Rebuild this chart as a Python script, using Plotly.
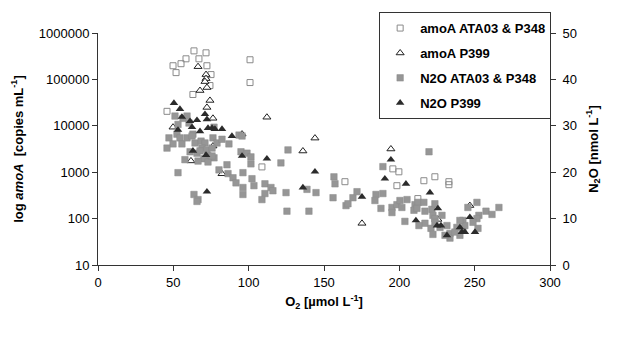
import plotly.graph_objects as go

# amoA ATA03 & P348 (open squares) - left log axis
o2_amoA_ata = [63.7, 71.7, 58.4, 67.0, 55.1, 49.8, 72.3, 51.8, 75.0, 100.9, 100.9, 74.3,
               63.0, 45.8, 108.8, 163.9, 195.7, 199.7, 198.4, 216.3, 223.6, 232.9, 232.9, 212.3]
amoA_ata = [412000, 374000, 278000, 278000, 218000, 197000, 197000, 140000, 127000, 265000,
            85500, 73800, 47300, 20500, 1300, 624, 1180, 1020, 512, 655, 798, 624, 538, 270]

# amoA P399 (open triangles) - left log axis
o2_amoA_p399 = [66.4, 71.7, 71.7, 71.0, 72.3, 67.7, 74.3, 72.3, 76.3, 112.1, 49.8, 76.3,
                61.7, 82.3, 95.6, 144.0, 136.0, 194.4, 175.2, 246.8, 225.6]
amoA_p399 = [188000, 127000, 104000, 89700, 66800, 57600, 35200, 24900, 14500, 15300, 9330,
             3660, 1750, 925, 6620, 5430, 2860, 3160, 79, 191, 96]

# N2O ATA03 & P348 (grey squares) - right axis
o2_n2o_ata = [51.1, 56.4, 59.1, 53.1, 60.4, 52.4, 47.1, 54.4, 49.8, 45.8, 55.7, 59.1, 63.0, 62.4,
              64.4, 68.4, 71.0, 76.3, 79.0, 82.3, 86.9, 93.6, 95.6, 77.0, 69.0, 72.3, 75.7, 65.7,
              73.0, 77.0, 70.3, 57.7, 66.4, 73.0, 53.1, 80.3, 85.6, 86.3, 89.6, 91.6, 61.1, 67.7,
              75.7, 94.9, 98.9, 101.5, 101.5, 96.2, 102.2, 103.5, 96.2, 96.2, 110.8, 110.8, 108.8,
              63.7, 66.4, 65.7, 114.8, 116.1, 126.1, 121.4, 124.8, 125.4, 140.0, 138.7, 144.7,
              156.6, 157.3, 156.0, 164.6, 165.9, 169.2, 171.9, 184.5, 183.8, 189.1, 187.8, 189.1,
              195.1, 195.1, 198.4, 200.4, 201.7, 203.7, 205.1, 219.7, 210.4, 212.4, 216.3, 209.7,
              217.0, 221.6, 223.6, 217.0, 213.0, 222.3, 228.3, 223.6, 221.0, 222.3, 227.0, 231.6,
              233.6, 233.6, 238.2, 242.2, 242.2, 240.2, 243.5, 251.5, 245.5, 252.8, 251.5, 252.2,
              257.5, 261.5, 266.1, 248.9, 223.6, 240.2, 211.7, 236.9, 230.3]
n2o_ata = [32.1, 31.6, 32.1, 30.3, 30.6, 28.2, 27.4, 27.4, 26.1, 25.2, 26.1, 27.4, 28.2, 27.8,
           26.3, 26.7, 26.3, 27.4, 26.3, 27.1, 26.1, 28.0, 27.8, 29.7, 25.2, 24.8, 25.2, 24.1,
           23.5, 23.1, 22.9, 22.7, 22.4, 22.2, 19.9, 20.5, 21.6, 19.7, 18.8, 17.7, 24.4, 24.6,
           23.5, 24.4, 24.1, 23.3, 21.8, 19.9, 18.6, 17.1, 16.7, 15.2, 17.5, 15.4, 14.1,
           15.2, 14.1, 13.7, 16.7, 16.0, 24.8, 22.0, 15.6, 11.6, 11.6, 16.3, 15.6,
           19.0, 17.5, 14.5, 12.8, 13.2, 14.5, 15.8, 15.2, 13.9, 15.4, 12.2, 21.2,
           12.4, 11.3, 13.0, 13.9, 12.4, 9.4, 14.1, 24.4, 13.0, 13.5, 13.5, 11.8,
           11.6, 12.0, 13.2, 9.0, 8.5, 10.7, 10.7, 10.0, 7.9, 6.6, 8.1, 8.5,
           6.8, 5.8, 8.1, 9.6, 7.9, 6.4, 8.5, 13.5, 12.4, 10.7, 10.0, 7.9,
           11.6, 10.9, 12.4, 9.2, 9.2, 9.6, 12.2, 7.1, 6.4]

# N2O P399 (dark triangles) - right axis
o2_n2o_p399 = [50.4, 54.4, 55.7, 61.1, 65.7, 62.4, 71.0, 72.3, 73.0, 75.7, 77.6, 82.3, 53.1, 88.9,
               67.7, 63.0, 71.7, 72.3, 95.6, 112.1, 144.0, 136.0, 175.2, 194.4, 190.4, 204.4,
               220.3, 225.6, 211.0, 225.0, 227.6, 231.6, 240.2, 241.5, 243.5, 246.8, 250.2]
n2o_p399 = [34.9, 33.6, 31.9, 31.0, 31.2, 29.7, 32.5, 31.4, 29.5, 29.5, 29.3, 29.3, 29.1, 27.8,
            28.8, 24.6, 23.7, 15.8, 23.5, 22.9, 20.1, 16.7, 14.7, 22.7, 18.6, 17.5,
            15.6, 12.2, 9.6, 8.5, 8.5, 6.4, 8.1, 7.1, 7.1, 10.3, 7.1]

left_tickvals = [10, 100, 1000, 10000, 100000, 1000000]
left_ticktext = ["10", "100", "1000", "10000", "100000", "1000000"]
right_tickvals = [0, 10, 20, 30, 40, 50]

FONT = "Liberation Sans, Arial, sans-serif"
AX = "#333333"

fig = go.Figure()
fig.add_trace(go.Scatter(x=o2_amoA_ata, y=amoA_ata, mode="markers", name="<b>amoA ATA03 &amp; P348</b>",
                         legendgroup="a",
                         marker=dict(symbol="square-open", size=6, color="#8a8a8a", line=dict(width=1))))
fig.add_trace(go.Scatter(x=o2_amoA_p399, y=amoA_p399, mode="markers", name="<b>amoA P399</b>",
                         legendgroup="b",
                         marker=dict(symbol="triangle-up", size=7, color="white",
                                     line=dict(color="#222222", width=1))))
fig.add_trace(go.Scatter(x=o2_n2o_ata, y=n2o_ata, mode="markers", name="<b>N2O ATA03 &amp; P348</b>",
                         legendgroup="c", yaxis="y2",
                         marker=dict(symbol="square", size=6.5, color="#969696",
                                     line=dict(color="#8a8a8a", width=0.5))))
fig.add_trace(go.Scatter(x=o2_n2o_p399, y=n2o_p399, mode="markers", name="<b>N2O P399</b>",
                         legendgroup="d", yaxis="y2",
                         marker=dict(symbol="triangle-up", size=7.5, color="#2b2b2b",
                                     line=dict(width=0))))

axis_common = dict(showgrid=False, zeroline=False, showline=True, linecolor=AX,
                   linewidth=1, ticks="outside", ticklen=5, tickcolor=AX,
                   tickfont=dict(family=FONT, size=13, color="black"))

fig.update_layout(
    width=628, height=338,
    margin=dict(l=98, r=78, t=31, b=73),
    paper_bgcolor="white", plot_bgcolor="white",
    font=dict(family=FONT, size=13, color="black"),
    showlegend=True,
    legend=dict(x=0.622, y=1.09, xanchor="left", yanchor="top",
                bordercolor=AX, borderwidth=1, bgcolor="white",
                font=dict(family=FONT, size=13, color="black"),
                tracegroupgap=5, itemwidth=30),
    xaxis=dict(range=[0, 300], dtick=50, tick0=0,
               title=dict(text="<b>O<sub>2</sub> [µmol L<sup>-1</sup>]</b>",
                          font=dict(family=FONT, size=13), standoff=8),
               **axis_common),
    yaxis=dict(type="log", range=[1, 6], tickvals=left_tickvals, ticktext=left_ticktext,
               title=dict(text="<b>log <i>amoA</i>  [copies mL<sup>-1</sup>]</b>",
                          font=dict(family=FONT, size=13), standoff=12),
               **axis_common),
    yaxis2=dict(overlaying="y", side="right", range=[0, 50], tickvals=right_tickvals,
                ticklabelstandoff=4,
                title=dict(text="<b>N<sub>2</sub>O [nmol L<sup>-1</sup>]</b>",
                           font=dict(family=FONT, size=13), standoff=12),
                **axis_common),
    # inner half of the crossing ticks on the right axis
    yaxis3=dict(overlaying="y", side="right", range=[0, 50], tickvals=right_tickvals,
                showticklabels=False, ticks="inside", ticklen=5, tickcolor=AX,
                showgrid=False, zeroline=False, showline=False),
)

fig.write_html("out.html")
